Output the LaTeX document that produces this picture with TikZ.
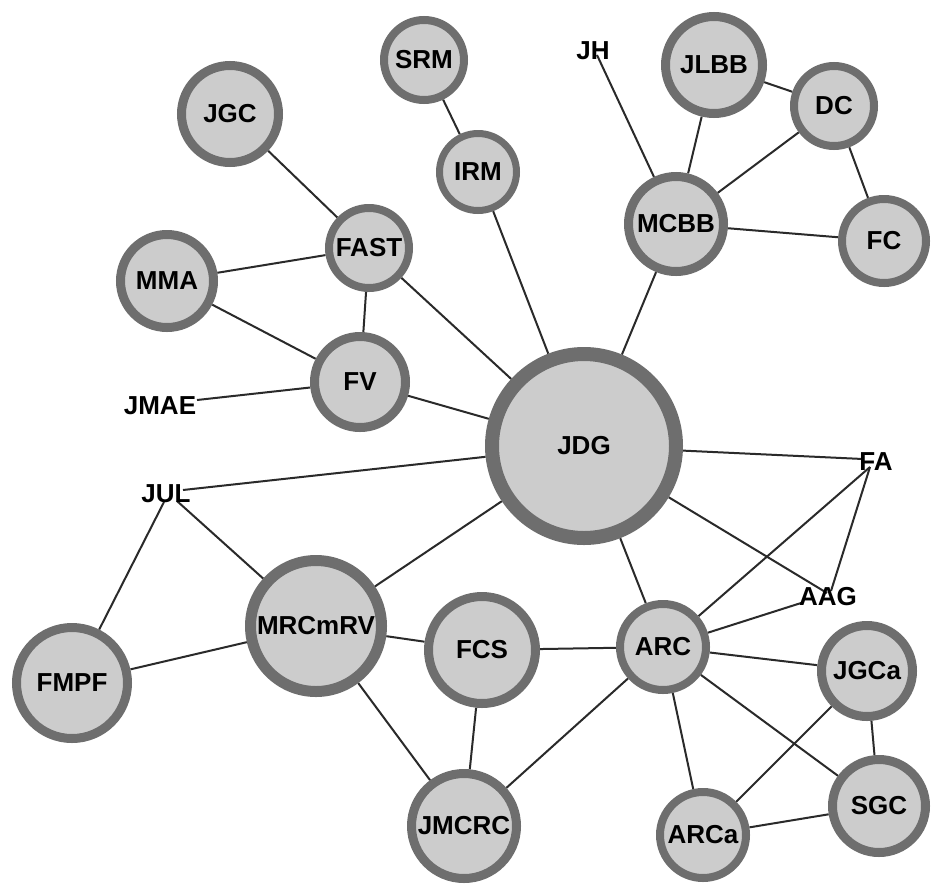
\documentclass[tikz,border=0pt]{standalone}
\usepackage{fontspec}
\setmainfont{Liberation Sans}
\usetikzlibrary{backgrounds}
\definecolor{ringgray}{HTML}{6E6E6E}
\definecolor{discgray}{HTML}{CCCCCC}
\definecolor{linkgray}{HTML}{2A2A2A}
\tikzset{
  vtx/.style 2 args={circle, draw=ringgray, fill=discgray, line width=#2,
    minimum size={2*#1-#2}, inner sep=0pt,
    font=\fontsize{26}{29}\selectfont\bfseries},
  tag/.style={inner sep=0pt, font=\fontsize{26}{29}\selectfont\bfseries},
  link/.style={draw=linkgray, line width=2}
}
\begin{document}
\begin{tikzpicture}[x=1pt,y=-1pt]
\useasboundingbox (0,0) rectangle (931,884);

% circular vertices: centre, outer radius, ring width
\node[vtx={44}{8}]  (SRM)    at (424,60)  {SRM};
\node[vtx={42}{7}]  (IRM)    at (478,172) {IRM};
\node[vtx={53}{9}]  (JGC)    at (230,114) {JGC};
\node[vtx={44}{8}]  (FAST)   at (369,248) {FAST};
\node[vtx={51}{9}]  (MMA)    at (167,281) {MMA};
\node[vtx={50}{9}]  (FV)     at (360,382) {FV};
\node[vtx={99}{14}] (JDG)    at (584,446) {JDG};
\node[vtx={53}{9}]  (JLBB)   at (714,65)  {JLBB};
\node[vtx={44}{8}]  (DC)     at (834,106) {DC};
\node[vtx={52}{9}]  (MCBB)   at (676,224) {MCBB};
\node[vtx={46}{8}]  (FC)     at (884,241) {FC};
\node[vtx={60}{9}]  (FMPF)   at (72,683)  {FMPF};
\node[vtx={71}{11}] (MRCmRV) at (316,626) {MRCmRV};
\node[vtx={58}{9}]  (FCS)    at (482,650) {FCS};
\node[vtx={57}{9}]  (JMCRC)  at (464,826) {JMCRC};
\node[vtx={47}{8}]  (ARC)    at (663,647) {ARC};
\node[vtx={50}{9}]  (JGCa)   at (867,671) {JGCa};
\node[vtx={51}{9}]  (SGC)    at (879,806) {SGC};
\node[vtx={47}{8}]  (ARCa)   at (703,835) {ARCa};

% text-only vertices
\node[tag] (JMAE) at (160,406) {JMAE};
\node[tag] (JUL)  at (166,494) {JUL};
\node[tag] (JH)   at (593,51)  {JH};
\node[tag] (FA)   at (876,462) {FA};
\node[tag] (AAG)  at (828,597) {AAG};

% where links meet the text-only vertices
\coordinate (JMAEend) at (197,400);
\coordinate (JULa) at (183,490);
\coordinate (JULb) at (164,502);
\coordinate (JULc) at (177,501);
\coordinate (JHend) at (597,55);
\coordinate (FAa) at (863,459);
\coordinate (FAb) at (870,467);
\coordinate (AAGa) at (827,593);
\coordinate (AAGb) at (831,591);
\coordinate (AAGc) at (801,603);

\begin{scope}[on background layer]
  \fill[white] (0,0) rectangle (931,884);
  \draw[link] (SRM) -- (IRM);
  \draw[link] (IRM) -- (JDG);
  \draw[link] (JGC) -- (FAST);
  \draw[link] (FAST) -- (MMA);
  \draw[link] (FAST) -- (FV);
  \draw[link] (FAST) -- (JDG);
  \draw[link] (MMA) -- (FV);
  \draw[link] (FV) -- (JMAEend);
  \draw[link] (FV) -- (JDG);
  \draw[link] (JHend) -- (MCBB);
  \draw[link] (JLBB) -- (MCBB);
  \draw[link] (JLBB) -- (DC);
  \draw[link] (DC) -- (MCBB);
  \draw[link] (DC) -- (FC);
  \draw[link] (MCBB) -- (FC);
  \draw[link] (MCBB) -- (JDG);
  \draw[link] (JDG) -- (FAa);
  \draw[link] (JDG) -- (JULa);
  \draw[link] (JDG) -- (AAGa);
  \draw[link] (JDG) -- (MRCmRV);
  \draw[link] (JDG) -- (ARC);
  \draw[link] (FAb) -- (AAGb);
  \draw[link] (FAb) -- (ARC);
  \draw[link] (AAGc) -- (ARC);
  \draw[link] (JULc) -- (MRCmRV);
  \draw[link] (JULb) -- (FMPF);
  \draw[link] (FMPF) -- (MRCmRV);
  \draw[link] (MRCmRV) -- (FCS);
  \draw[link] (MRCmRV) -- (JMCRC);
  \draw[link] (FCS) -- (ARC);
  \draw[link] (FCS) -- (JMCRC);
  \draw[link] (JMCRC) -- (ARC);
  \draw[link] (ARC) -- (JGCa);
  \draw[link] (ARC) -- (SGC);
  \draw[link] (ARC) -- (ARCa);
  \draw[link] (JGCa) -- (SGC);
  \draw[link] (JGCa) -- (ARCa);
  \draw[link] (ARCa) -- (SGC);
\end{scope}
\end{tikzpicture}
\end{document}
